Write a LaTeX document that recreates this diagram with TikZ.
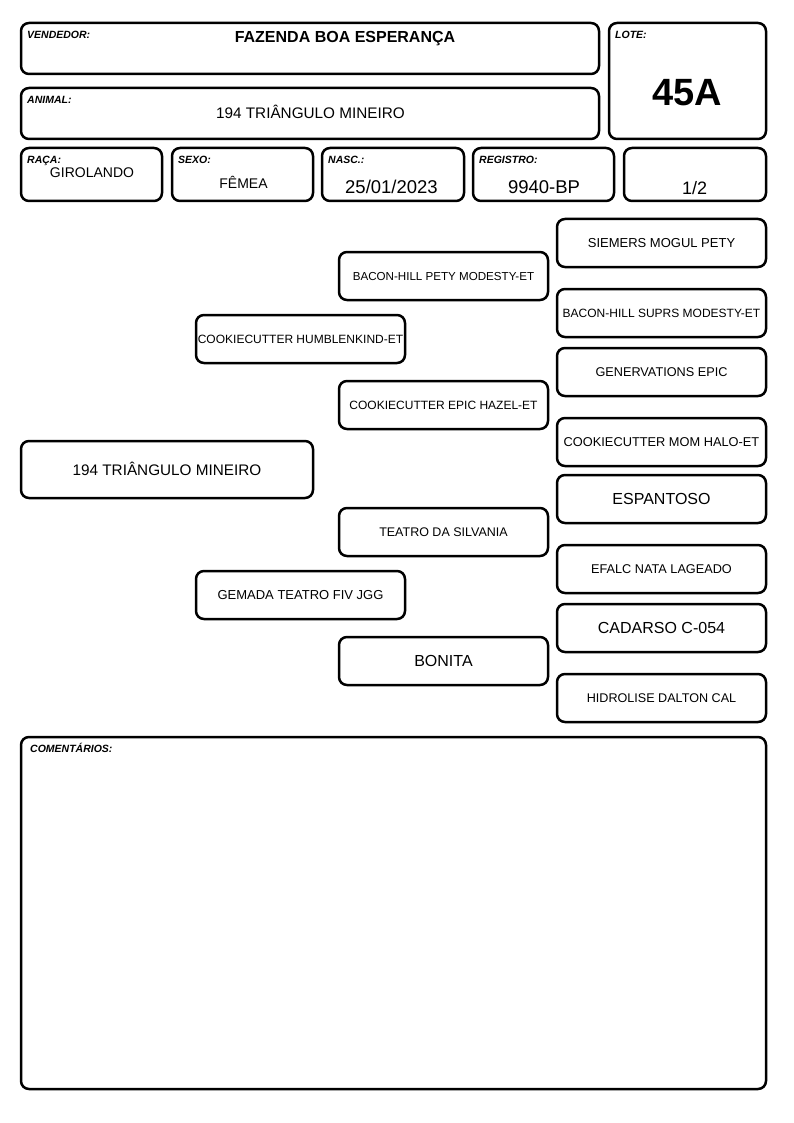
\documentclass[tikz,border=0pt]{standalone}
\usepackage{fontspec}
\setmainfont{Liberation Sans}
\usetikzlibrary{positioning}
\newcommand*\pedsize[1]{\fontsize{#1}{#1}\selectfont}

\begin{document}
\begin{tikzpicture}[x=1pt, y=-1pt,
    fs/.style={font=\pedsize{#1}, text height={0.72*#1pt}, text depth=0pt},
    card/.style={draw, line width=2.5pt, rounded corners=8pt, inner sep=0pt,
        outer sep=0pt, anchor=north west},
    ped/.style={draw, line width=2.5pt, rounded corners=8pt, inner sep=0pt,
        outer sep=0pt, minimum width=209pt, minimum height=48pt, fs=12},
    caption/.style={anchor=north west, inner sep=0pt, fs=10.5,
        font=\bfseries\itshape\pedsize{10.5}},
    value/.style={inner sep=0pt, anchor=base}]

    \useasboundingbox (0,0) rectangle (794,1123);

    % HEADER CARDS
    \node [card, minimum width=578pt, minimum height=51pt]  (vendedor) at (21,23) {};
    \node [card, minimum width=578pt, minimum height=51pt]  (animal)   at (21,88) {};
    \node [card, minimum width=157pt, minimum height=116pt] (lote)     at (609,23) {};
    \node [card, minimum width=141pt, minimum height=53pt]  (raca)     at (21,148) {};
    \node [card, minimum width=141pt, minimum height=53pt]  (sexo)     at (172,148) {};
    \node [card, minimum width=142pt, minimum height=53pt]  (nasc)     at (322,148) {};
    \node [card, minimum width=141pt, minimum height=53pt]  (registro) at (473,148) {};
    \node [card, minimum width=142pt, minimum height=53pt]  (parte)    at (624,148) {};
    \node [card, minimum width=745pt, minimum height=352pt] (comentarios) at (21,737) {};

    % Card captions
    \foreach \card/\txt in {vendedor/VENDEDOR:, animal/ANIMAL:, lote/LOTE:,
            raca/RAÇA:, sexo/SEXO:, nasc/NASC.:, registro/REGISTRO:}
        \node [caption] at ([shift={(6,8)}]\card.north west) {\txt};
    \node [caption] at ([shift={(9,8)}]comentarios.north west) {COMENTÁRIOS:};

    % Card values (placed on their baselines)
    \node [value, font=\bfseries\pedsize{16}]  (vendedorval) at (345,43)     {FAZENDA BOA ESPERANÇA};
    \node [value, font=\pedsize{15.3}]         (animalval)   at (310.5,119)  {194 TRIÂNGULO MINEIRO};
    \node [value, font=\bfseries\pedsize{38}]  (loteval)     at (687.5,105.5){45A};
    \node [value, font=\pedsize{14}]           (racaval)     at (92,178)     {GIROLANDO};
    \node [value, font=\pedsize{14}]           (sexoval)     at (243.5,189)  {FÊMEA};
    \node [value, font=\pedsize{18.5}]         (nascval)     at (391.5,193.5){25/01/2023};
    \node [value, font=\pedsize{18.5}]         (registroval) at (544,193.5)  {9940-BP};
    \node [value, font=\pedsize{18}]           (parteval)    at (694.5,194.5){1/2};

    % PEDIGREE: ANIMAL
    \node [ped, minimum width=292pt, minimum height=57pt, fs=15.3] (self) at (167,469.5)
        {194 TRIÂNGULO MINEIRO};

    % PARENTS
    \node [ped] (sire) at (300.5,339) {COOKIECUTTER HUMBLENKIND-ET};
    \node [ped, fs=13] (dam) at (300.5,595) {GEMADA TEATRO FIV JGG};

    % GRANDPARENTS
    \node [ped, fs=11.6] (ss) at (443.5,276) {BACON-HILL PETY MODESTY-ET};
    \node [ped] (sd) at (443.5,405) {COOKIECUTTER EPIC HAZEL-ET};
    \node [ped, fs=12.5] (ds) at (443.5,532) {TEATRO DA SILVANIA};
    \node [ped, fs=16] (dd) at (443.5,661) {BONITA};

    % GREAT-GRANDPARENTS
    \node [ped, fs=13] (sss) at (661.5,243) {SIEMERS MOGUL PETY};
    \node [ped] (ssd) at (661.5,313) {BACON-HILL SUPRS MODESTY-ET};
    \node [ped, fs=12.7] (sds) at (661.5,372) {GENERVATIONS EPIC};
    \node [ped, fs=12.8] (sdd) at (661.5,442) {COOKIECUTTER MOM HALO-ET};
    \node [ped, fs=16] (dss) at (661.5,499) {ESPANTOSO};
    \node [ped, fs=12.7] (dsd) at (661.5,569) {EFALC NATA LAGEADO};
    \node [ped, fs=16] (dds) at (661.5,628) {CADARSO C-054};
    \node [ped, fs=12.6] (ddd) at (661.5,698) {HIDROLISE DALTON CAL};
\end{tikzpicture}
\end{document}
